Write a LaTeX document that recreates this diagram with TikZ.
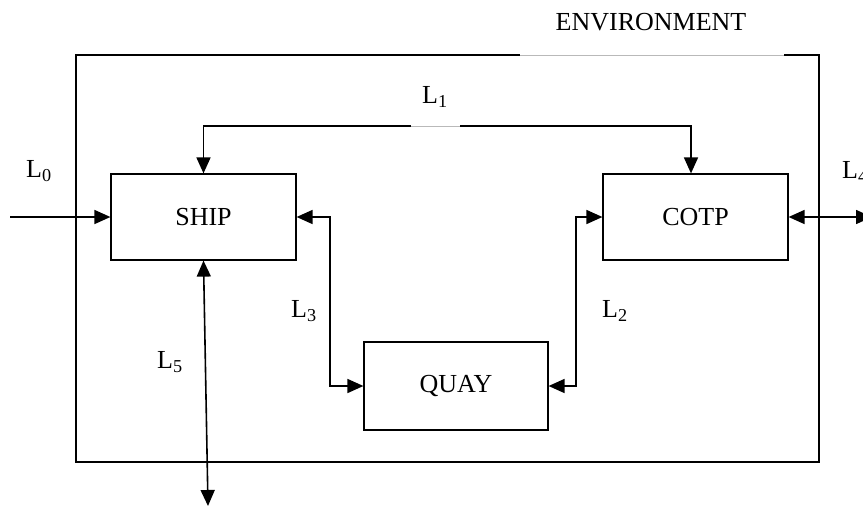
\documentclass[tikz,border=0pt]{standalone}
\usepackage{fontspec}
\setmainfont{Liberation Serif}
\usetikzlibrary{arrows.meta,calc}

\tikzset{
  block/.style={draw, line width=1.2pt, minimum width=185pt, minimum height=86pt, inner sep=0pt,
                font=\fontsize{26}{30}\selectfont},
  link/.style={line width=1.6pt, {Triangle[length=16pt,width=14pt]}-{Triangle[length=16pt,width=14pt]}},
  inlink/.style={line width=1.6pt, -{Triangle[length=16pt,width=14pt]}},
  lbl/.style={font=\fontsize{26}{30}\selectfont, inner sep=0pt, anchor=west},
  frame/.style={line width=1.4pt},
  gapline/.style={draw=gray!55, line width=0.7pt}
}

\begin{document}
\begin{tikzpicture}[x=1pt,y=-1pt]
  \useasboundingbox (0,0) rectangle (863,507);

  % environment boundary, open at the top where the title sits
  \coordinate (e1) at (520,55);
  \coordinate (e2) at (784,55);
  \draw[frame] (e1) -- (76,55) -- (76,462) -- (819,462) -- (819,55) -- (e2);
  \draw[gapline] (e1) -- (e2);
  \node[font=\fontsize{26}{30}\selectfont, inner sep=0pt] (env) at (651,22) {ENVIRONMENT};

  % subsystems
  \node[block] (ship) at (203.5,217) {SHIP};
  \node[block] (cotp) at (695.5,217) {COTP};
  \node[block, minimum width=184pt, minimum height=88pt] (quay) at (456,386) {QUAY};

  % L1: ship <-> cotp over the top
  \coordinate (l1a) at (203.5,126);
  \coordinate (l1b) at (691,126);
  \draw[link] (ship.north) -- (l1a) -- (l1b) -- (l1b |- cotp.north);
  \coordinate (g1) at (411,126);
  \coordinate (g2) at (460,126);
  \draw[white, line width=3pt] (g1) -- (g2);
  \draw[gapline] (g1) -- (g2);
  \node[lbl] (L1) at (422,97) {L\textsubscript{1}};

  % L0: input from outside
  \coordinate (l0) at (10,217);
  \draw[inlink] (l0) -- (ship.west);
  \node[lbl] (L0) at (26,171) {L\textsubscript{0}};

  % L4: cotp <-> outside
  \coordinate (l4) at (872,217);
  \draw[link] (cotp.east) -- (l4);
  \node[lbl] (L4) at (842,172) {L\textsubscript{4}};

  % L3: ship <-> quay
  \coordinate (c3) at (330,217);
  \draw[link] (ship.east) -- (c3) |- (quay.west);
  \node[lbl] (L3) at (291,311) {L\textsubscript{3}};

  % L2: cotp <-> quay
  \coordinate (c2) at (576,217);
  \draw[link] (cotp.west) -- (c2) |- (quay.east);
  \node[lbl] (L2) at (602,311) {L\textsubscript{2}};

  % L5: ship <-> outside, below
  \coordinate (l5) at (208,506);
  \draw[link] (ship.south) -- (l5);
  \node[lbl] (L5) at (157,362) {L\textsubscript{5}};
\end{tikzpicture}
\end{document}
